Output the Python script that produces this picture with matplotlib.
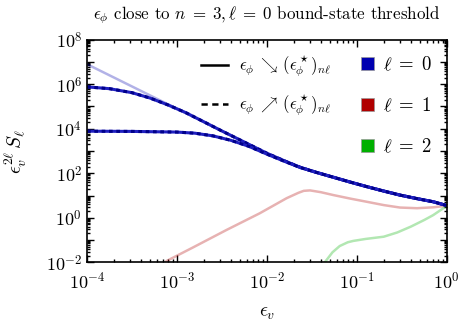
import numpy as np
import matplotlib
matplotlib.use("Agg")
import matplotlib.pyplot as plt
import matplotlib.ticker as ticker
from matplotlib.lines import Line2D
from matplotlib.patches import Patch

plt.rcParams['font.family'] = ['cmr10', 'DejaVu Serif']
plt.rcParams['mathtext.fontset'] = 'cm'
plt.rcParams['axes.formatter.use_mathtext'] = True

# values, as (log10 eps_v, log10 eps_v^{2l} S_l)
main_lx = [-4.0, -3.5, -3.0, -2.5, -2.0, -1.8, -1.63, -1.45, -1.26, -1.07, -0.89, -0.7, -0.52, -0.33, -0.15, 0.0]
main_ly = [6.9, 5.9, 4.9, 3.9, 2.9, 2.55, 2.27, 2.04, 1.82, 1.6, 1.4, 1.2, 1.02, 0.86, 0.72, 0.55]

upper_lx = [-4.0, -3.75, -3.5, -3.3, -3.1, -2.9, -2.7, -2.5, -2.0, -1.8, -1.63, -1.45, -1.26, -1.07, -0.89, -0.7, -0.52, -0.33, -0.15, 0.0]
upper_ly = [5.88, 5.8, 5.62, 5.38, 5.07, 4.72, 4.31, 3.9, 2.9, 2.55, 2.27, 2.04, 1.82, 1.6, 1.4, 1.2, 1.02, 0.86, 0.72, 0.55]

lower_lx = [-4.0, -3.5, -3.0, -2.8, -2.6, -2.4, -2.2, -2.0, -1.8, -1.63, -1.45, -1.26, -1.07, -0.89, -0.7, -0.52, -0.33, -0.15, 0.0]
lower_ly = [3.89, 3.88, 3.85, 3.8, 3.68, 3.48, 3.21, 2.86, 2.53, 2.26, 2.04, 1.82, 1.6, 1.4, 1.2, 1.02, 0.86, 0.72, 0.55]

red_lx = [-3.2, -3.11, -2.82, -2.45, -2.08, -1.78, -1.65, -1.59, -1.52, -1.4, -1.26, -1.07, -0.89, -0.7, -0.52, -0.33, -0.15, 0.0]
red_ly = [-2.2, -1.93, -1.33, -0.55, 0.2, 0.88, 1.12, 1.21, 1.23, 1.15, 1.02, 0.86, 0.72, 0.57, 0.46, 0.43, 0.47, 0.54]

green_lx = [-1.4, -1.35, -1.27, -1.19, -1.1, -1.04, -0.9, -0.7, -0.55, -0.4, -0.25, -0.15, 0.0]
green_ly = [-2.2, -1.97, -1.55, -1.27, -1.1, -1.04, -0.95, -0.85, -0.66, -0.4, -0.1, 0.12, 0.53]

legend_cols = ['#0000b0', '#b00000', '#00b000']
legend_labels = [r'$\ell\;=\;0$', r'$\ell\;=\;1$', r'$\ell\;=\;2$']

fig = plt.figure(figsize=(4.59, 3.23), dpi=100)
ax = fig.add_axes([87/459, 1-262.3/323, (446.7-87)/459, (262.3-39.7)/323])

def pw(a):
    return 10**np.array(a)

ax.plot(pw(main_lx), pw(main_ly), color='#0000b0', lw=1.8, alpha=0.3)
ax.plot(pw(red_lx), pw(red_ly), color='#b00000', lw=1.8, alpha=0.3)
ax.plot(pw(green_lx), pw(green_ly), color='#00b000', lw=1.8, alpha=0.3)

for lx, ly in [(upper_lx, upper_ly), (lower_lx, lower_ly)]:
    ax.plot(pw(lx), pw(ly), color='#2020c0', lw=2.2, solid_capstyle='butt')
    ax.plot(pw(lx), pw(ly), color='#00008a', lw=2.2, ls=(0, (1.2, 1.2)))

ax.set_xscale('log')
ax.set_yscale('log')
ax.set_xlim(1e-4, 1)
ax.set_ylim(1e-2, 1e8)

ax.yaxis.set_major_locator(ticker.FixedLocator([10.0**k for k in range(-2, 9)]))
ax.yaxis.set_major_formatter(ticker.FuncFormatter(
    lambda v, p: r'$10^{%d}$' % round(np.log10(v)) if round(np.log10(v)) % 2 == 0 else ''))
ax.yaxis.set_minor_locator(ticker.LogLocator(base=10, subs=np.arange(2, 10), numticks=20))
ax.yaxis.set_minor_formatter(ticker.NullFormatter())
ax.xaxis.set_major_locator(ticker.LogLocator(base=10, numticks=10))
ax.xaxis.set_minor_locator(ticker.LogLocator(base=10, subs=np.arange(2, 10), numticks=20))
ax.xaxis.set_minor_formatter(ticker.NullFormatter())

ax.tick_params(which='both', direction='in', top=True, right=True, labelsize=13, width=1)
ax.tick_params(which='major', length=5)
ax.tick_params(which='minor', length=2.5)
ax.tick_params(axis='x', pad=6)
for s in ax.spines.values():
    s.set_linewidth(1.2)

ax.set_title(r'$\epsilon_\phi$ close to $n\;=\;3, \ell\;=\;0$ bound-state threshold', fontsize=12.2, pad=15)
ax.set_xlabel(r'$\epsilon_v$', fontsize=14, labelpad=9)
ax.set_ylabel(r'$\epsilon_v^{2\ell}\,S_\ell$', fontsize=14, labelpad=12)

style_handles = [Line2D([], [], color='k', lw=1.8), Line2D([], [], color='k', lw=1.8, ls=(0, (2.5, 1.8)))]
style_labels = [r'$\epsilon_\phi\;\searrow\,(\epsilon_\phi^\star)_{n\ell}$',
                r'$\epsilon_\phi\;\nearrow\,(\epsilon_\phi^\star)_{n\ell}$']
leg1 = ax.legend(style_handles, style_labels, loc='upper left', bbox_to_anchor=(0.275, 1.005),
                 frameon=False, fontsize=12, handlelength=1.6, handletextpad=0.7, labelspacing=0.8)
ax.add_artist(leg1)

col_handles = [Patch(facecolor=c, edgecolor='#999999', lw=0.5) for c in legend_cols]
ax.legend(col_handles, legend_labels, loc='upper right', bbox_to_anchor=(1.005, 1.005),
          frameon=False, fontsize=13.5, handlelength=0.65, handleheight=0.65, handletextpad=0.5,
          labelspacing=1.2)

fig.savefig('out.png', dpi=100)
